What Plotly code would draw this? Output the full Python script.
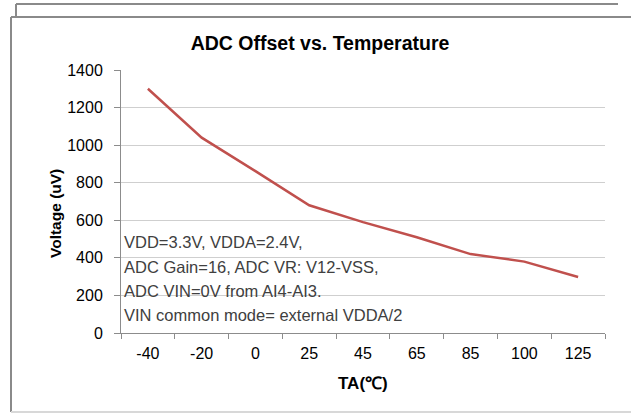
import plotly.graph_objects as go

# Temperature points (category labels) and measured ADC offset
temps = ["-40", "-20", "0", "25", "45", "65", "85", "100", "125"]
offset_uv = [1300, 1040, 862, 680, 590, 510, 420, 380, 298]

y_ticks = [0, 200, 400, 600, 800, 1000, 1200, 1400]

conditions = [
    "VDD=3.3V, VDDA=2.4V,",
    "ADC Gain=16, ADC VR: V12-VSS,",
    "ADC VIN=0V from AI4-AI3.",
    "VIN common mode= external VDDA/2",
]

W, H = 631, 416
L, R, T, B = 121, 26, 70, 83
PW, PH = W - L - R, H - T - B


def px(x):
    return (x - L) / PW


def py(y):
    return (H - B - y) / PH


fig = go.Figure()
fig.add_trace(go.Scatter(
    x=temps, y=offset_uv, mode="lines",
    line=dict(color="#c0504d", width=2.5),
    showlegend=False, hoverinfo="x+y",
))

axis_gray = "#8c8c8c"
fig.update_layout(
    width=W, height=H,
    margin=dict(l=L, r=R, t=T, b=B),
    paper_bgcolor="white", plot_bgcolor="white",
    font=dict(family="Liberation Sans, Arial, sans-serif", color="black", size=16),
    title=dict(text="<b>ADC Offset vs. Temperature</b>", x=320 / W, xanchor="center",
               y=1 - 43 / H, yanchor="middle", yref="container",
               font=dict(size=19.5, family="Liberation Sans, Arial, sans-serif")),
    xaxis=dict(type="category", range=[-0.5, 8.5], tickson="boundaries",
               ticks="outside", ticklen=5, tickcolor=axis_gray,
               showline=True, linecolor=axis_gray, linewidth=1,
               showgrid=False, tickfont=dict(size=16), ticklabelstandoff=6,
               fixedrange=True),
    yaxis=dict(range=[0, 1400], tickvals=y_ticks, ticks="outside", ticklen=6,
               tickcolor=axis_gray, showline=True, linecolor=axis_gray,
               linewidth=1, gridcolor="#cfcfcf", gridwidth=1.2,
               tickfont=dict(size=16), ticklabelstandoff=8,
               zeroline=False, fixedrange=True),
)

# Axis titles
fig.add_annotation(text="<b>Voltage (uV)</b>", textangle=-90, x=px(55), y=py(214),
                   xref="paper", yref="paper", xanchor="center", yanchor="middle",
                   showarrow=False, font=dict(size=15.5))
fig.add_annotation(text="<b>TA(℃)</b>", x=px(363), y=py(383),
                   xref="paper", yref="paper", xanchor="center", yanchor="middle",
                   showarrow=False, font=dict(size=17))

# Measurement conditions box text
for line, ycen in zip(conditions, [242, 267, 291, 315]):
    fig.add_annotation(text=line, x=px(122), y=py(ycen), xanchor="left",
                       yanchor="middle", xref="paper", yref="paper",
                       showarrow=False,
                       font=dict(size=16.5, color="#404040",
                                 family="Liberation Sans, Arial, sans-serif"))

# Chart frame lines
frame = "#8a8a8a"
for x0, y0, x1, y1, c in [
    (16, 4, 618, 4, frame),
    (16, 4, 16, 17, frame),
    (11, 17, 631, 17, frame),
    (11, 17, 11, 412, frame),
    (11, 412, 631, 412, "#d8d8d8"),
]:
    fig.add_shape(type="line", xref="paper", yref="paper",
                  x0=px(x0), y0=py(y0), x1=px(x1), y1=py(y1),
                  line=dict(color=c, width=2))

fig.write_html("out.html")
